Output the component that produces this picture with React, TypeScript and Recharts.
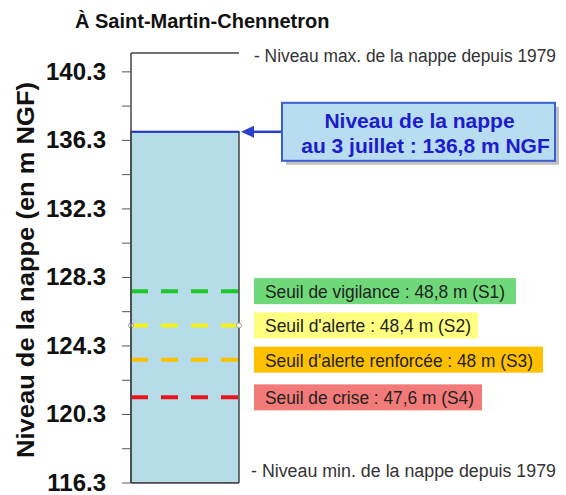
import React from 'react';
import { BarChart, Bar, XAxis, YAxis, ReferenceLine, Customized } from 'recharts';

// ---- data ----
const stations = ['À Saint-Martin-Chennetron'];
const currentLevels = [136.8];
const historicMax = 141.4;
const historicMin = 116.3;
const yTicks = [116.3, 118.3, 120.3, 122.3, 124.3, 126.3, 128.3, 130.3, 132.3, 134.3, 136.3, 138.3, 140.3];
const thresholdNames = [
  'Seuil de vigilance : 48,8 m (S1)',
  "Seuil d'alerte : 48,4 m (S2)",
  "Seuil d'alerte renforcée : 48 m (S3)",
  'Seuil de crise : 47,6 m (S4)',
];
const thresholdLevels = [127.5, 125.5, 123.5, 121.3];
const maxLabel = '- Niveau max. de la nappe depuis 1979';
const minLabel = '- Niveau min. de la nappe depuis 1979';
const calloutLines = ['Niveau de la nappe', 'au 3 juillet : 136,8 m NGF'];
const yAxisTitle = 'Niveau de la nappe (en m NGF)';

// ---- styles ----
const FONT = '"Liberation Sans", Arial, sans-serif';
const lineColors = ['#1fc82a', '#f2f21a', '#ffc000', '#e8141e'];
const boxFills = ['#6fd97a', '#ffff80', '#ffc000', '#f27a78'];
const boxWidths = [262, 224, 289, 228];
const textWidths = [240, 206, 268, 209];

const data = stations.map((s, i) => ({ name: s, level: currentLevels[i] }));

const makeThresholdLabel = (idx: number) => (props: any) => {
  const { x, y, width } = props.viewBox;
  const bx = x + width + 15;
  const ends = idx === 1 ? (
    <g>
      <circle cx={x} cy={y} r={2.5} fill="#fff" stroke="#999" strokeWidth={1} />
      <circle cx={x + width} cy={y} r={2.5} fill="#fff" stroke="#999" strokeWidth={1} />
    </g>
  ) : null;
  return (
    <g>
      {ends}
      <rect x={bx} y={y - 13} width={boxWidths[idx]} height={26} fill={boxFills[idx]} />
      <text
        x={bx + 11}
        y={y + 7}
        fontSize={19}
        fontFamily={FONT}
        fill="#222"
        textLength={textWidths[idx]}
        lengthAdjust="spacingAndGlyphs"
      >
        {thresholdNames[idx]}
      </text>
    </g>
  );
};

const MaxLabel = (props: any) => {
  const { x, y, width } = props.viewBox;
  return (
    <text x={x + width + 15} y={y + 9} fontSize={18} fontFamily={FONT} fill="#333"
      textLength={302} lengthAdjust="spacingAndGlyphs">{maxLabel}</text>
  );
};

const MinLabel = (props: any) => {
  const { x, y, width } = props.viewBox;
  return (
    <text x={x + width + 12} y={y - 6} fontSize={18} fontFamily={FONT} fill="#333"
      textLength={305} lengthAdjust="spacingAndGlyphs">{minLabel}</text>
  );
};

const CalloutLabel = (props: any) => {
  const { x, y, width } = props.viewBox;
  const tip = x + width + 2;
  const bx = x + width + 43;
  const bw = 273;
  const bh = 58;
  const cx = bx + bw / 2;
  return (
    <g>
      <line x1={tip + 10} y1={y} x2={bx} y2={y} stroke="#2a3fd0" strokeWidth={2.5} />
      <polygon points={`${tip},${y} ${tip + 13},${y - 6} ${tip + 13},${y + 6}`} fill="#2a3fd0" />
      <rect x={bx + 4} y={y - bh / 2 + 4} width={bw} height={bh} fill="#9a9a9a" opacity={0.6} />
      <rect x={bx} y={y - bh / 2} width={bw} height={bh} fill="#b9ddf0" stroke="#3b5fd0" strokeWidth={2} />
      <text x={cx + 1} y={y - 4} textAnchor="middle" fontSize={21} fontWeight="bold" fontFamily={FONT} fill="#1c1ccc">
        {calloutLines[0]}
      </text>
      <text x={cx + 7} y={y + 21} textAnchor="middle" fontSize={21} fontWeight="bold" fontFamily={FONT} fill="#1c1ccc">
        {calloutLines[1]}
      </text>
    </g>
  );
};

const YTick = (props: any) => {
  const { x, y, payload, index } = props;
  if (index % 2 !== 0) return null;
  return (
    <text x={x} y={y + 8} textAnchor="end" fontSize={24} fontWeight="bold" fontFamily={FONT} fill="#111">
      {Number(payload.value).toFixed(1)}
    </text>
  );
};

const YTitle = (props: any) => {
  const { x, y, height } = props.viewBox;
  const cx = x - 6;
  const cy = y + height / 2 + 2;
  return (
    <text x={cx} y={cy} transform={`rotate(-90 ${cx} ${cy})`} textAnchor="middle" dominantBaseline="central"
      fontSize={24} fontWeight="bold" fontFamily={FONT} fill="#111" textLength={376} lengthAdjust="spacingAndGlyphs">
      {yAxisTitle}
    </text>
  );
};

const Title = () => (
  <text x={75} y={28} fontSize={20} fontWeight="bold" fontFamily={FONT} fill="#111">{stations[0]}</text>
);

export default function App() {
  return (
    <div style={{ position: 'absolute', left: 0, top: 0, width: 566, height: 495, background: '#fff' }}>
      <BarChart
        width={566}
        height={495}
        data={data}
        margin={{ top: 53, right: 327, bottom: 12, left: 31 }}
        barCategoryGap={0}
      >
        <XAxis dataKey="name" hide />
        <YAxis
          width={100}
          domain={[historicMin, historicMax]}
          ticks={yTicks}
          allowDataOverflow
          axisLine={{ stroke: '#444', strokeWidth: 1.5 }}
          tickLine={{ stroke: '#555' }}
          tickSize={9}
          tickMargin={16}
          tick={<YTick />}
          interval={0}
          label={<YTitle />}
        />
        <Bar dataKey="level" fill="#b6dbe9" stroke="#444" strokeWidth={1.5} isAnimationActive={false} />
        <ReferenceLine y={historicMax} stroke="#444" strokeWidth={1.5} label={MaxLabel} />
        <ReferenceLine y={historicMin} stroke="#444" strokeWidth={1.5} label={MinLabel} />
        <ReferenceLine y={currentLevels[0]} stroke="#2233cc" strokeWidth={2} label={CalloutLabel} />
        {thresholdLevels.map((lvl, i) => (
          <ReferenceLine
            key={i}
            y={lvl}
            stroke={lineColors[i]}
            strokeWidth={4}
            strokeDasharray="17 13"
            label={makeThresholdLabel(i)}
          />
        ))}
        <Customized component={Title} />
      </BarChart>
    </div>
  );
}
